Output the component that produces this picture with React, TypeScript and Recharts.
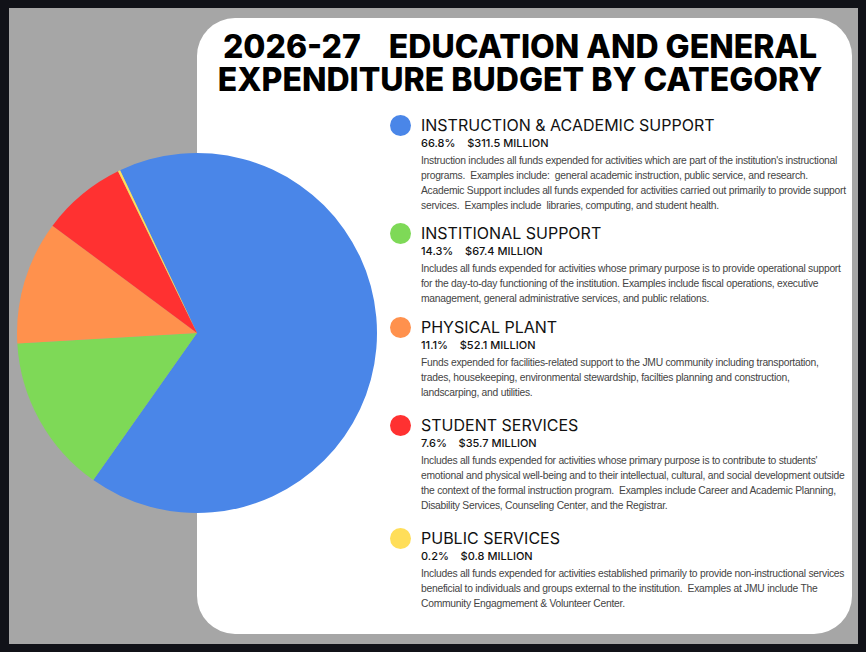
import React from 'react';
import { PieChart, Pie, Cell } from 'recharts';

// Budget categories, shares of the total (%) and amounts ($ million)
const categories = [
  'INSTRUCTION & ACADEMIC SUPPORT',
  'INSTITIONAL SUPPORT',
  'PHYSICAL PLANT',
  'STUDENT SERVICES',
  'PUBLIC SERVICES',
];
const percents = [66.8, 14.3, 11.1, 7.6, 0.2];
const amounts = [311.5, 67.4, 52.1, 35.7, 0.8];
const colors = ['#4A86E8', '#7ED957', '#FF914D', '#FF3131', '#FFDE59'];

const descriptions: string[][] = [
  [
    "Instruction includes all funds expended for activities which are part of the institution's instructional",
    'programs.  Examples include:  general academic instruction, public service, and research.',
    'Academic Support includes all funds expended for activities carried out primarily to provide support',
    'services.  Examples include  libraries, computing, and student health.',
  ],
  [
    'Includes all funds expended for activities whose primary purpose is to provide operational support',
    'for the day-to-day functioning of the institution. Examples include fiscal operations, executive',
    'management, general administrative services, and public relations.',
  ],
  [
    'Funds expended for facilities-related support to the JMU community including transportation,',
    'trades, housekeeping, environmental stewardship, facilties planning and construction,',
    'landscarping, and utilities.',
  ],
  [
    "Includes all funds expended for activities whose primary purpose is to contribute to students'",
    'emotional and physical well-being and to their intellectual, cultural, and social development outside',
    'the context of the formal instruction program.  Examples include Career and Academic Planning,',
    'Disability Services, Counseling Center, and the Registrar.',
  ],
  [
    'Includes all funds expended for activities established primarily to provide non-instructional services',
    'beneficial to individuals and groups external to the institution.  Examples at JMU include The',
    'Community Engagmement & Volunteer Center.',
  ],
];

const title = '2026-27    EDUCATION AND GENERAL\nEXPENDITURE BUDGET BY CATEGORY';

// vertical centre of each legend heading
const itemCenters = [125, 233, 327, 425, 538];

const pieData = categories.map((name, i) => ({ name, value: percents[i] }));

const START = 115.3;

export default function App() {
  return (
    <div
      style={{
        position: 'absolute',
        left: 0,
        top: 0,
        width: 866,
        height: 652,
        background: '#111218',
        overflow: 'hidden',
      }}
    >
      <div style={{ position: 'absolute', left: 9, top: 8, width: 849, height: 636, background: '#A6A6A6' }} />
      <div
        style={{
          position: 'absolute',
          left: 197,
          top: 18,
          width: 655,
          height: 616,
          background: '#FFFFFF',
          borderRadius: 38,
        }}
      />
      <div style={{ position: 'absolute', left: 0, top: 0 }}>
        <PieChart width={866} height={652} margin={{ top: 0, right: 0, bottom: 0, left: 0 }}>
          <Pie
            data={pieData}
            dataKey="value"
            nameKey="name"
            cx={197}
            cy={333}
            innerRadius={0}
            outerRadius={180}
            startAngle={START}
            endAngle={START - 360}
            stroke="none"
            isAnimationActive={false}
          >
            {pieData.map((d, i) => (
              <Cell key={d.name} fill={colors[i]} />
            ))}
          </Pie>
        </PieChart>
      </div>

      <div
        style={{
          position: 'absolute',
          left: 170,
          width: 700,
          top: 29.5,
          lineHeight: '33.5px',
          textAlign: 'center',
          whiteSpace: 'pre',
          fontFamily: 'Inter, sans-serif',
          fontWeight: 800,
          fontSize: 32,
          color: '#000',
        }}
      >
        {title}
      </div>

      {categories.map((name, i) => {
        const c = itemCenters[i];
        return (
          <React.Fragment key={name}>
            <div
              style={{
                position: 'absolute',
                left: 390,
                top: c - 10.5,
                width: 21,
                height: 21,
                borderRadius: '50%',
                background: colors[i],
              }}
            />
            <div
              style={{
                position: 'absolute',
                left: 421,
                top: c - 10,
                lineHeight: '20px',
                whiteSpace: 'pre',
                fontFamily: 'Inter, sans-serif',
                fontSize: 16,
                color: '#111',
              }}
            >
              {name}
            </div>
            <div
              style={{
                position: 'absolute',
                left: 421,
                top: c + 18 - 7,
                lineHeight: '14px',
                whiteSpace: 'pre',
                fontFamily: 'Inter, sans-serif',
                fontWeight: 500,
                fontSize: 11,
                color: '#111',
              }}
            >
              {`${percents[i].toFixed(1)}%    $${amounts[i].toFixed(1)} MILLION`}
            </div>
            {descriptions[i].map((line, j) => (
              <div
                key={j}
                style={{
                  position: 'absolute',
                  left: 421,
                  top: c + 36 + j * 15 - 8,
                  lineHeight: '15px',
                  whiteSpace: 'pre',
                  fontFamily: '"Liberation Sans", Arial, sans-serif',
                  fontSize: 10.3,
                  letterSpacing: -0.25,
                  color: '#444',
                }}
              >
                {line}
              </div>
            ))}
          </React.Fragment>
        );
      })}
    </div>
  );
}
